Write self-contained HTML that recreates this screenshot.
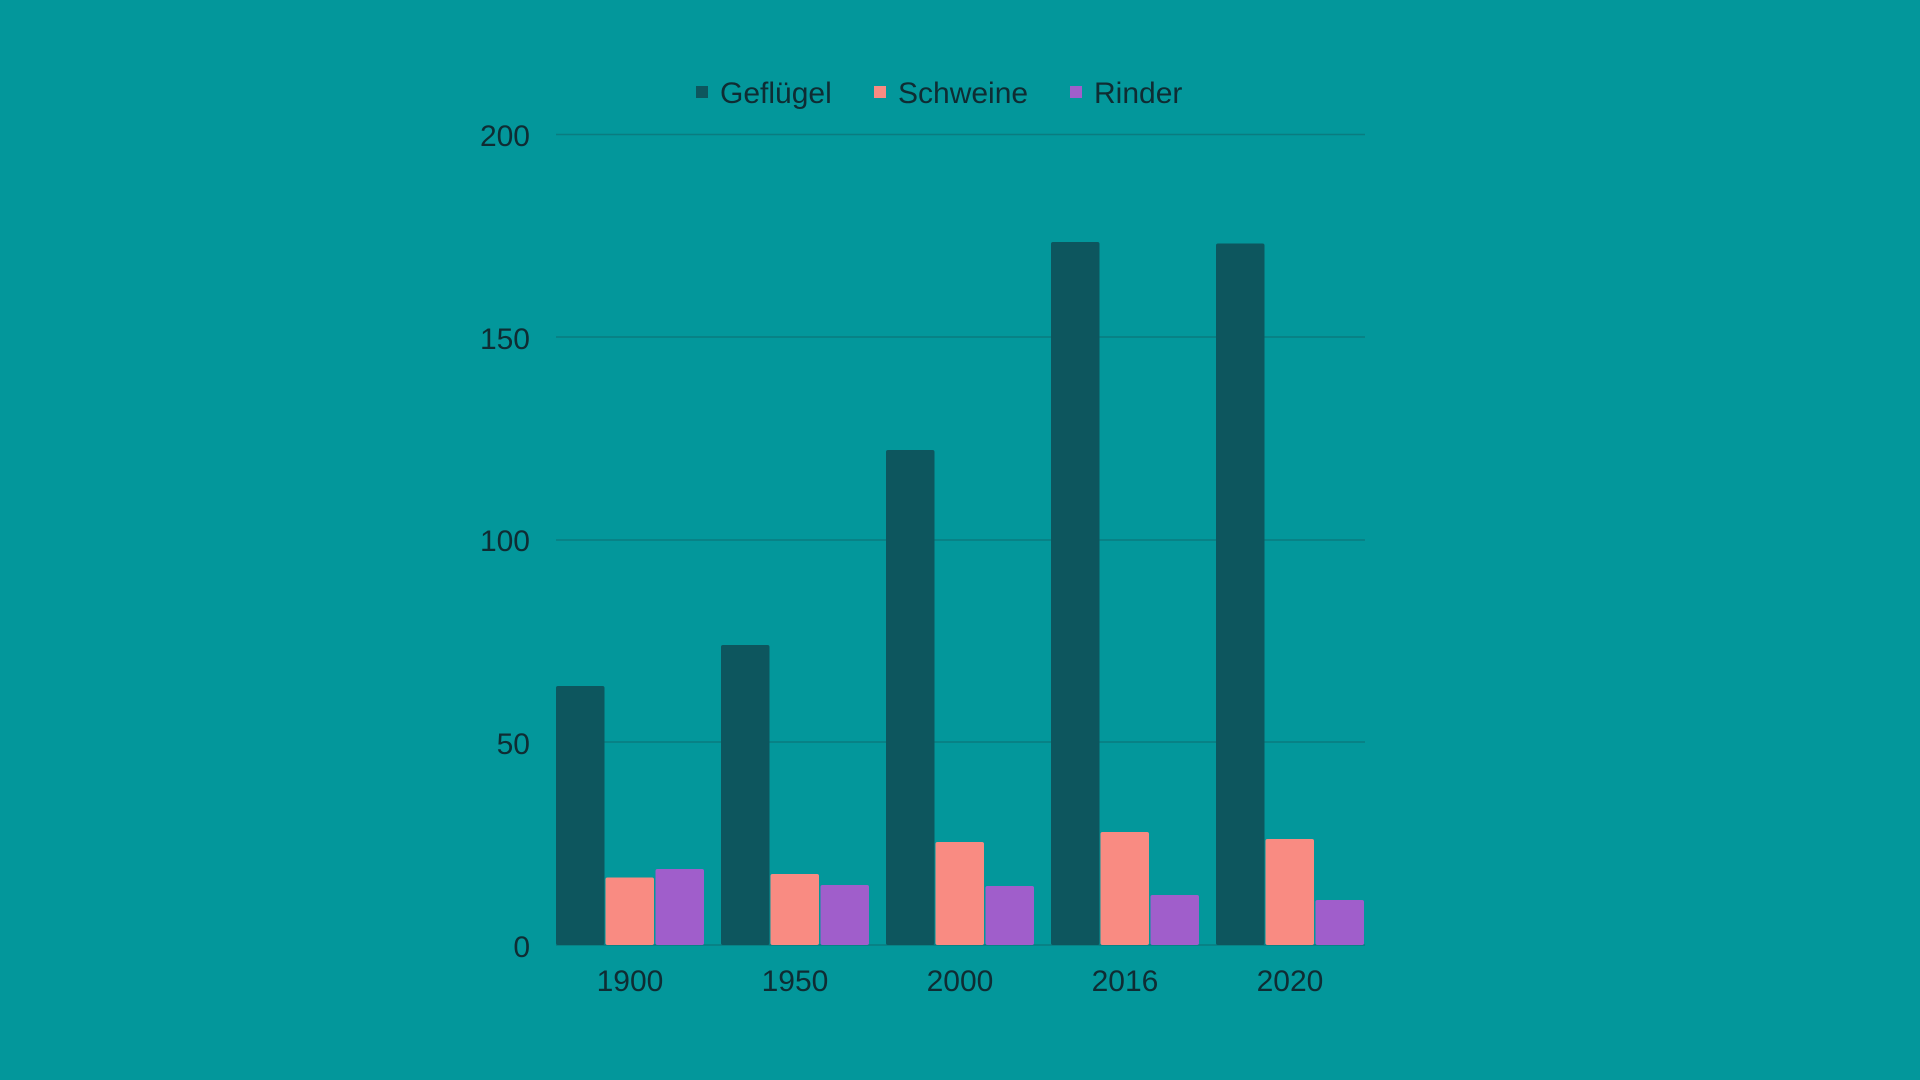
<!DOCTYPE html>
<html><head><meta charset="utf-8"><style>
html,body{margin:0;padding:0;background:#03979b;}
svg{display:block;font-family:"Liberation Sans",sans-serif;}
</style></head><body>
<svg width="1920" height="1080" viewBox="0 0 1920 1080">
<rect width="1920" height="1080" fill="#03979b"/>
<g stroke="#0a7c80" stroke-width="1.5">
<line x1="556" y1="134.5" x2="1365" y2="134.5"/>
<line x1="556" y1="337" x2="1365" y2="337"/>
<line x1="556" y1="540" x2="1365" y2="540"/>
<line x1="556" y1="742" x2="1365" y2="742"/>
<line x1="556" y1="945" x2="1365" y2="945"/>
</g>
<g fill="#0f2c33" font-size="30" text-anchor="end">
<text x="530" y="146">200</text>
<text x="530" y="349">150</text>
<text x="530" y="551">100</text>
<text x="530" y="754">50</text>
<text x="530" y="957">0</text>
</g>
<g fill="#0f2c33" font-size="30" text-anchor="middle">
<text x="630" y="991">1900</text>
<text x="795" y="991">1950</text>
<text x="960" y="991">2000</text>
<text x="1125" y="991">2016</text>
<text x="1290" y="991">2020</text>
</g>
<g>
<!-- scale 4.05 px per unit, baseline 945 -->
<rect x="556" y="686" width="48.5" height="259" rx="2" fill="#0d565e"/>
<rect x="605.5" y="877.5" width="48.5" height="67.5" rx="2" fill="#f98b82"/>
<rect x="655.5" y="869" width="48.5" height="76" rx="2" fill="#a05ecb"/>

<rect x="721" y="645" width="48.5" height="300" rx="2" fill="#0d565e"/>
<rect x="770.5" y="874" width="48.5" height="71" rx="2" fill="#f98b82"/>
<rect x="820.5" y="885" width="48.5" height="60" rx="2" fill="#a05ecb"/>

<rect x="886" y="450" width="48.5" height="495" rx="2" fill="#0d565e"/>
<rect x="935.5" y="842" width="48.5" height="103" rx="2" fill="#f98b82"/>
<rect x="985.5" y="886" width="48.5" height="59" rx="2" fill="#a05ecb"/>

<rect x="1051" y="242" width="48.5" height="703" rx="2" fill="#0d565e"/>
<rect x="1100.5" y="832" width="48.5" height="113" rx="2" fill="#f98b82"/>
<rect x="1150.5" y="895" width="48.5" height="50" rx="2" fill="#a05ecb"/>

<rect x="1216" y="243.5" width="48.5" height="701.5" rx="2" fill="#0d565e"/>
<rect x="1265.5" y="839" width="48.5" height="106" rx="2" fill="#f98b82"/>
<rect x="1315.5" y="900" width="48.5" height="45" rx="2" fill="#a05ecb"/>
</g>
<g font-size="30" fill="#0f2c33">
<rect x="696" y="86" width="12" height="12" fill="#0d565e"/>
<text x="720" y="103">Geflügel</text>
<rect x="874" y="86" width="12" height="12" fill="#f98b82"/>
<text x="898" y="103">Schweine</text>
<rect x="1070" y="86" width="12" height="12" fill="#a05ecb"/>
<text x="1094" y="103">Rinder</text>
</g>
</svg>
</body></html>
